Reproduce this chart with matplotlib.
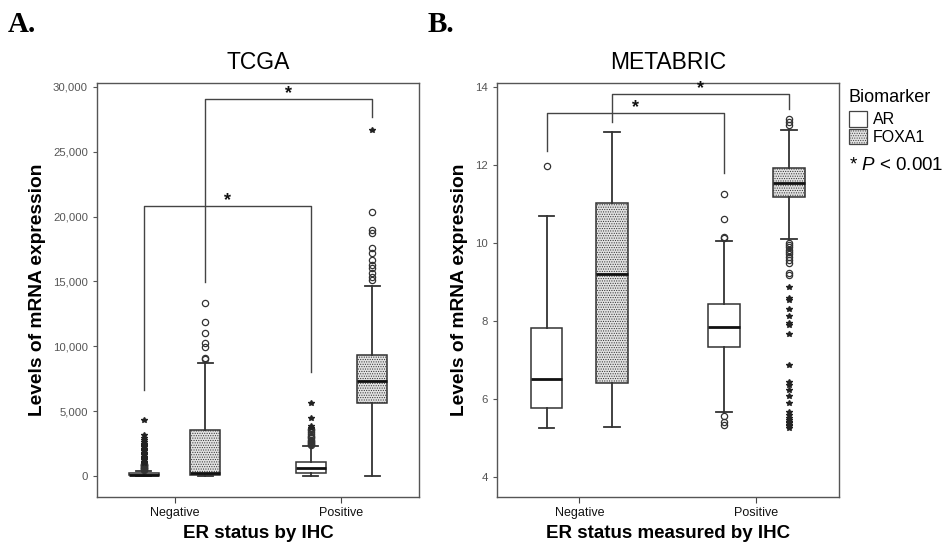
import matplotlib.pyplot as plt
from matplotlib.patches import Patch

plt.rcParams['font.family'] = ['Liberation Sans', 'DejaVu Sans']
plt.rcParams['mathtext.fontset'] = 'custom'
plt.rcParams['mathtext.it'] = 'Liberation Sans:italic'
plt.rcParams['mathtext.rm'] = 'Liberation Sans'
plt.rcParams['hatch.color'] = '#b4b4b4'
plt.rcParams['hatch.linewidth'] = 0.5

groups = ['Negative', 'Positive']
biomarkers = ['AR', 'FOXA1']

# box order: AR/Negative, FOXA1/Negative, AR/Positive, FOXA1/Positive
tcga_whislo = [0, 0, 0, 0]
tcga_q1 = [40, 60, 250, 5600]
tcga_med = [100, 230, 590, 7320]
tcga_q3 = [200, 3540, 1100, 9320]
tcga_whishi = [410, 8730, 2340, 14640]
tcga_outliers = [
    [460, 520, 580, 640, 700, 760, 820, 880, 940],
    [9000, 9060, 9960, 10220, 10990, 11890, 13300],
    [2400, 2480, 2560, 2640, 2720, 2800, 2900, 3000, 3100, 3250, 3400, 3520, 3600],
    [15100, 15350, 15620, 16000, 16250, 16640, 17150, 17590, 18700, 18950, 20360],
]
tcga_extremes = [
    [1000, 1100, 1200, 1300, 1400, 1500, 1600, 1700, 1800, 1900, 2000,
     2100, 2200, 2300, 2400, 2500, 2600, 2750, 2900, 3160, 4300],
    [],
    [3700, 3850, 4490, 5650],
    [26650],
]

metabric_whislo = [5.24, 5.28, 5.67, 10.09]
metabric_q1 = [5.75, 6.41, 7.32, 11.16]
metabric_med = [6.50, 9.19, 7.85, 11.54]
metabric_q3 = [7.80, 11.01, 8.42, 11.91]
metabric_whishi = [10.68, 12.83, 10.05, 12.89]
metabric_outliers = [
    [11.97],
    [],
    [5.33, 5.41, 5.56, 10.11, 10.15, 10.60, 11.24],
    [9.17, 9.21, 9.47, 9.56, 9.63, 9.70, 9.76, 9.82, 9.88, 9.94, 9.98,
     13.02, 13.08, 13.16],
]
metabric_extremes = [
    [], [], [],
    [5.24, 5.29, 5.33, 5.37, 5.41, 5.46, 5.50, 5.58, 5.67, 5.88, 6.07,
     6.22, 6.35, 6.44, 6.86, 7.66, 7.89, 7.95, 8.12, 8.29, 8.53, 8.57, 8.85],
]

# significance brackets: (left box, right box, bar height, left foot, right foot)
tcga_brackets = [(0, 2, 20800, 6620, 8040), (1, 3, 29070, 14970, 27650)]
metabric_brackets = [(0, 2, 13.32, 12.36, 11.78), (1, 3, 13.80, 13.09, 13.42)]

offset = 0.185
width = 0.18
positions = [g + s * offset for g in range(len(groups)) for s in (-1, 1)]
fills = ['white', '#e2e2e2']
hatches = [None, '.......']
edge = '#333333'


def draw_panel(ax, title, xlabel, whislo, q1, med, q3, whishi, outliers,
               extremes, brackets, ylim, yticks, yfmt, star_pad):
    stats = []
    for i in range(len(positions)):
        stats.append(dict(whislo=whislo[i], q1=q1[i], med=med[i], q3=q3[i],
                          whishi=whishi[i], fliers=outliers[i]))
    bp = ax.bxp(stats, positions=positions, widths=width, capwidths=width / 2,
                patch_artist=True, showfliers=True,
                boxprops=dict(edgecolor=edge, linewidth=1.1),
                medianprops=dict(color='#111111', linewidth=2.0),
                whiskerprops=dict(color=edge, linewidth=1.3),
                capprops=dict(color=edge, linewidth=1.3),
                flierprops=dict(marker='o', markersize=4.5, markerfacecolor='none',
                                markeredgecolor='#333333', markeredgewidth=0.9))
    for i, box in enumerate(bp['boxes']):
        box.set_facecolor(fills[i % 2])
        if hatches[i % 2]:
            box.set_hatch(hatches[i % 2])
    for i, vals in enumerate(extremes):
        if vals:
            ax.plot([positions[i]] * len(vals), vals, linestyle='none', marker='*',
                    markersize=4.2, color='#222222')

    for a, b, top, foot_a, foot_b in brackets:
        xa, xb = positions[a], positions[b]
        ax.plot([xa, xa, xb, xb], [foot_a, top, top, foot_b],
                color='#444444', linewidth=1.0)
        ax.text((xa + xb) / 2, top + star_pad, '*', ha='center', va='center',
                fontsize=13, fontweight='bold', color='#111111')

    ax.set_xlim(-0.466, 1.466)
    ax.set_ylim(*ylim)
    ax.set_yticks(yticks)
    ax.set_yticklabels([yfmt(v) for v in yticks])
    ax.set_xticks(range(len(groups)))
    ax.set_xticklabels(groups)
    ax.tick_params(axis='y', labelsize=8.2, labelcolor='#555555', color='#555555',
                   length=3, width=0.8)
    ax.tick_params(axis='x', labelsize=9, labelcolor='#111111', color='#444444',
                   length=4, width=0.8)
    for sp in ax.spines.values():
        sp.set_color('#555555')
        sp.set_linewidth(1.0)
    ax.set_title(title, fontsize=16.5, pad=10)
    ax.set_xlabel(xlabel, fontsize=13.5, fontweight='bold', labelpad=4)
    ax.set_ylabel('Levels of mRNA expression', fontsize=13.8, fontweight='bold',
                  labelpad=5)


fig = plt.figure(figsize=(9.48, 5.45), dpi=100)
ax_a = fig.add_axes([0.1023, 0.0881, 0.3397, 0.7596])
ax_b = fig.add_axes([0.5240, 0.0881, 0.3610, 0.7602])

draw_panel(ax_a, 'TCGA', 'ER status by IHC', tcga_whislo, tcga_q1, tcga_med,
           tcga_q3, tcga_whishi, tcga_outliers, tcga_extremes, tcga_brackets,
           (-1620, 30290), [0, 5000, 10000, 15000, 20000, 25000, 30000],
           lambda v: f'{v:,}', 400)
draw_panel(ax_b, 'METABRIC', 'ER status measured by IHC', metabric_whislo,
           metabric_q1, metabric_med, metabric_q3, metabric_whishi,
           metabric_outliers, metabric_extremes, metabric_brackets,
           (3.48, 14.1), [4, 6, 8, 10, 12, 14], lambda v: f'{v}', 0.15)

fig.text(8 / 948, 1 - 25 / 545, 'A.', fontsize=21, fontweight='bold',
         family='Liberation Serif', va='center', ha='left')
fig.text(428 / 948, 1 - 25 / 545, 'B.', fontsize=21, fontweight='bold',
         family='Liberation Serif', va='center', ha='left')

handles = [Patch(facecolor=fills[i], edgecolor='#444444', hatch=hatches[i],
                 linewidth=0.9, label=biomarkers[i]) for i in range(2)]
fig.text(849 / 948, 1 - 97 / 545, 'Biomarker', fontsize=13, va='center', ha='left')
fig.legend(handles=handles, loc='upper left',
           bbox_to_anchor=(846 / 948, 1 - 108 / 545), frameon=False,
           fontsize=11.5, handlelength=1.1, handleheight=1.1, handletextpad=0.4,
           labelspacing=0.1, borderpad=0.2, borderaxespad=0)
fig.text(849 / 948, 1 - 166 / 545, r'* $\it{P}$ < 0.001', fontsize=13.5,
         va='center', ha='left')

fig.savefig('out.png', dpi=100)
